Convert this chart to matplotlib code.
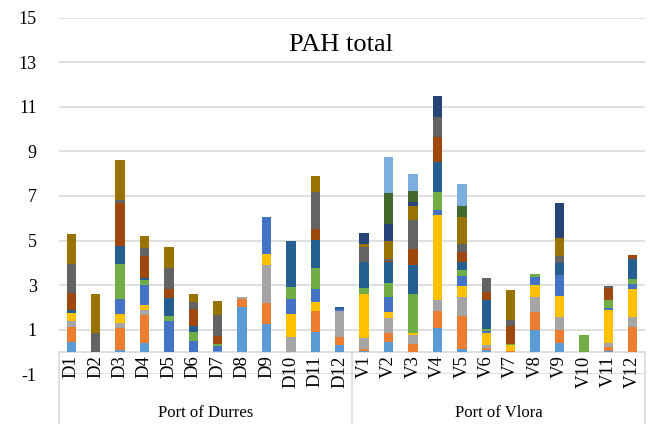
import matplotlib.pyplot as plt
import numpy as np

plt.rcParams['axes.unicode_minus'] = False

# sample sites
sites = ["D1", "D2", "D3", "D4", "D5", "D6", "D7", "D8", "D9", "D10", "D11", "D12",
         "V1", "V2", "V3", "V4", "V5", "V6", "V7", "V8", "V9", "V10", "V11", "V12"]
groups = ["Port of Durres", "Port of Vlora"]

# stacked PAH components, bottom to top
s1 = [0.46, 0, 0.09, 0.42, 0, 0, 0.05, 2.02, 1.26, 0, 0.91, 0.30,
      0.06, 0.45, 0, 1.09, 0.15, 0.10, 0, 0.99, 0.39, 0, 0.05, 0]
s2 = [0.67, 0, 0.99, 1.26, 0, 0, 0, 0.34, 0.94, 0, 0.93, 0.37,
      0.06, 0.40, 0.34, 0.75, 1.48, 0.10, 0.06, 0.81, 0.61, 0, 0.18, 1.12]
s3 = [0.27, 0, 0.22, 0.19, 0, 0, 0, 0.12, 1.69, 0.67, 0, 1.18,
      0.52, 0.67, 0.43, 0.48, 0.84, 0.10, 0, 0.67, 0.57, 0, 0.19, 0.45]
s4 = [0.33, 0, 0.42, 0.24, 0, 0, 0, 0, 0.49, 1.05, 0.40, 0,
      1.97, 0.27, 0.07, 3.83, 0.51, 0.55, 0.27, 0.52, 0.96, 0, 1.48, 1.24]
s5 = [0, 0, 0.66, 0.91, 1.40, 0.49, 0.22, 0, 1.66, 0.67, 0.58, 0.06,
      0, 0.67, 0, 0.21, 0.43, 0.10, 0, 0.39, 0.93, 0, 0.07, 0.24]
s6 = [0, 0, 1.58, 0.19, 0.22, 0.42, 0.10, 0, 0, 0.54, 0.96, 0.03,
      0.25, 0.63, 1.75, 0.82, 0.25, 0.06, 0.04, 0.10, 0, 0.78, 0.34, 0.24]
s7 = [0.15, 0, 0.81, 0.10, 0.81, 0.27, 0, 0, 0, 2.03, 1.26, 0.07,
      1.18, 0.93, 1.33, 1.35, 0.39, 1.33, 0, 0, 0.51, 0, 0.03, 0.90]
s8 = [0.75, 0, 1.91, 1.00, 0.39, 0.73, 0.37, 0, 0, 0, 0.48, 0,
      0, 0.06, 0.69, 1.11, 0.42, 0.34, 0.81, 0, 0, 0, 0.55, 0.15]
s9 = [1.33, 0.87, 0.15, 0.37, 0.94, 0.34, 0.90, 0, 0, 0, 1.66, 0,
      0.66, 0.10, 1.30, 0.91, 0.39, 0.66, 0.25, 0, 0.34, 0, 0.06, 0]
s10 = [1.35, 1.72, 1.76, 0.51, 0.93, 0.37, 0.64, 0, 0, 0, 0.70, 0,
       0.15, 0.82, 0.64, 0, 1.18, 0, 1.35, 0, 0.81, 0, 0, 0]
s11 = [0, 0, 0, 0, 0, 0, 0, 0, 0, 0, 0, 0,
       0.49, 0.76, 0.16, 0.91, 0, 0, 0, 0, 1.57, 0, 0, 0]
s12 = [0, 0, 0, 0, 0, 0, 0, 0, 0, 0, 0, 0,
       0, 1.36, 0.49, 0, 0.52, 0, 0, 0, 0, 0, 0, 0]
s13 = [0, 0, 0, 0, 0, 0, 0, 0, 0, 0, 0, 0,
       0, 1.61, 0.79, 0, 0.97, 0, 0, 0, 0, 0, 0, 0]

series = [s1, s2, s3, s4, s5, s6, s7, s8, s9, s10, s11, s12, s13]
colors = ["#5B9BD5", "#ED7D31", "#A5A5A5", "#FFC000", "#4472C4", "#70AD47",
          "#255E91", "#9E480E", "#636363", "#997300", "#264478", "#43682B",
          "#7CAFDD"]

serif = "Liberation Serif"
grid_c = "#D9D9D9"

fig = plt.figure(figsize=(6.49, 4.24), dpi=100)
ax = fig.add_axes([0.0909, 0.1172, 0.9029, 0.8415])

x = np.arange(len(sites))
bottom = np.zeros(len(sites))
for vals, c in zip(series, colors):
    ax.bar(x, vals, width=0.385, bottom=bottom, color=c, zorder=3)
    bottom += np.array(vals)

ax.set_xlim(-0.5, len(sites) - 0.5)
ax.set_ylim(-1, 15)
ax.set_yticks(np.arange(-1, 16, 2))
for t in np.arange(-1, 16, 2):
    ax.axhline(t, color=grid_c, lw=1.2, zorder=1)
ax.axhline(0, color=grid_c, lw=1.2, zorder=2)

for s in ax.spines.values():
    s.set_visible(False)
ax.set_xticks([])
ax.tick_params(axis="y", length=0, pad=16)
for lab in ax.get_yticklabels():
    lab.set_family(serif)
    lab.set_fontsize(13)

# category labels (rotated) and group labels below
for i, name in enumerate(sites):
    ax.text(i, -0.15, name, rotation=90, ha="center", va="top",
            family=serif, fontsize=13.5, clip_on=False)
ax.text(5.5, -2.75, groups[0], ha="center", va="center", family=serif, fontsize=12)
ax.text(17.5, -2.75, groups[1], ha="center", va="center", family=serif, fontsize=12)
for xv in [-0.5, 11.5, 23.5]:
    ax.plot([xv, xv], [0, -3.4], color=grid_c, lw=1.2, clip_on=False)

fig.text(0.525, 0.893, "PAH total", ha="center", va="center", family=serif, fontsize=19)

fig.savefig("out.png", dpi=100)
